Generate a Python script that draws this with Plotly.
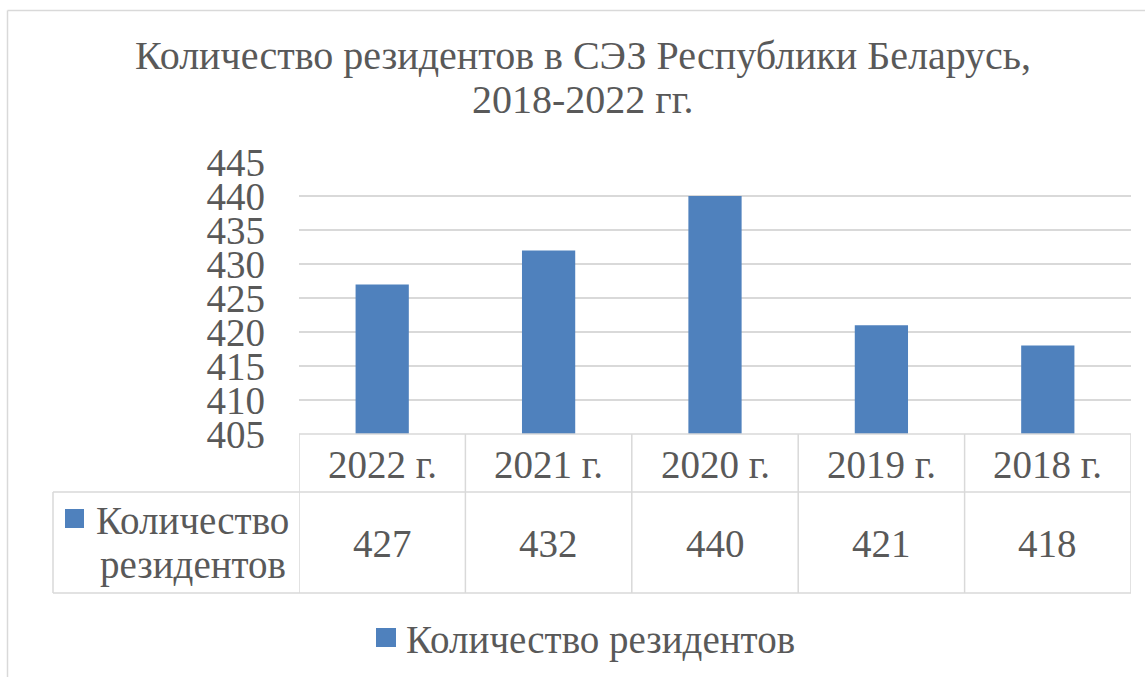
import plotly.graph_objects as go

# data
years = ['2022 г.', '2021 г.', '2020 г.', '2019 г.', '2018 г.']
residents = [427, 432, 440, 421, 418]
series_name = 'Количество резидентов'
title_lines = ['Количество резидентов в СЭЗ Республики Беларусь,', '2018-2022 гг.']

W, H = 1145, 677
PL, PT, PW, PH = 299, 162, 832, 272  # plot area in px

bar_col = '#4F81BD'
txt_col = '#595959'
line_col = '#D9D9D9'
font_fam = 'Liberation Serif'
fs = 39


def px(x):  # pixel -> paper x
    return (x - PL) / PW


def py(y):  # pixel -> paper y
    return (PT + PH - y) / PH


fig = go.Figure()
fig.add_trace(go.Bar(x=years, y=residents, name=series_name,
                     marker=dict(color=bar_col, line=dict(width=0)),
                     width=0.32, showlegend=False))

shapes = []
annots = []

# outer chart border (only top/left visible)
shapes.append(dict(type='line', xref='paper', yref='paper', x0=px(7.5), x1=px(7.5),
                   y0=py(10.5), y1=py(720), line=dict(color=line_col, width=1.5)))
shapes.append(dict(type='line', xref='paper', yref='paper', x0=px(7.5), x1=px(1180),
                   y0=py(10.5), y1=py(10.5), line=dict(color=line_col, width=1.5)))

# data table grid
for i in range(len(years) + 1):
    shapes.append(dict(type='line', xref='x', yref='paper', x0=i - 0.5, x1=i - 0.5,
                       y0=0, y1=py(593), line=dict(color=line_col, width=1.5)))
shapes.append(dict(type='line', xref='paper', yref='paper', x0=0, x1=1, y0=0, y1=0,
                   line=dict(color=line_col, width=1.5)))
for yy in (492, 593):
    shapes.append(dict(type='line', xref='paper', yref='paper', x0=px(53), x1=1,
                       y0=py(yy), y1=py(yy), line=dict(color=line_col, width=1.5)))
shapes.append(dict(type='line', xref='paper', yref='paper', x0=px(53), x1=px(53),
                   y0=py(492), y1=py(593), line=dict(color=line_col, width=1.5)))

# legend key in the table
shapes.append(dict(type='rect', xref='paper', yref='paper', x0=px(65), x1=px(84),
                   y0=py(528), y1=py(509), fillcolor=bar_col, line=dict(width=0)))
# bottom legend key
shapes.append(dict(type='rect', xref='paper', yref='paper', x0=px(376), x1=px(396),
                   y0=py(647), y1=py(628), fillcolor=bar_col, line=dict(width=0)))

font = dict(family=font_fam, size=fs, color=txt_col)
tfont = dict(family=font_fam, size=40, color=txt_col)

for yr, v in zip(years, residents):
    annots.append(dict(x=yr, xref='x', y=py(464), yref='paper', text=yr, showarrow=False,
                       font=font, xanchor='center', yanchor='middle'))
    annots.append(dict(x=yr, xref='x', y=py(543), yref='paper', text=str(v), showarrow=False,
                       font=font, xanchor='center', yanchor='middle'))

name_parts = series_name.split(' ')
annots.append(dict(x=px(192), xref='paper', y=py(520), yref='paper', text=name_parts[0],
                   showarrow=False, font=font, xanchor='center', yanchor='middle'))
annots.append(dict(x=px(193), xref='paper', y=py(565), yref='paper', text=name_parts[1],
                   showarrow=False, font=font, xanchor='center', yanchor='middle'))

# bottom legend text
annots.append(dict(x=px(404), xref='paper', y=py(640), yref='paper', text=series_name,
                   showarrow=False, font=font, xanchor='left', yanchor='middle'))

# title
annots.append(dict(x=px(583), xref='paper', y=py(55), yref='paper', text=title_lines[0],
                   showarrow=False, font=tfont, xanchor='center', yanchor='middle'))
annots.append(dict(x=px(583), xref='paper', y=py(100), yref='paper', text=title_lines[1],
                   showarrow=False, font=tfont, xanchor='center', yanchor='middle'))

fig.update_layout(
    width=W, height=H,
    margin=dict(l=PL, r=W - PL - PW, t=PT, b=H - PT - PH),
    paper_bgcolor='white', plot_bgcolor='white',
    shapes=shapes, annotations=annots,
    showlegend=False,
    xaxis=dict(range=[-0.5, 4.5], showticklabels=False, showgrid=False, zeroline=False,
               showline=False, ticks=''),
    yaxis=dict(range=[405, 445], dtick=5, tick0=405, showgrid=True, gridcolor=line_col,
               gridwidth=1.5, zeroline=False, showline=False, ticks='',
               tickfont=font, ticklabelstandoff=33),
)

# page has a default 8px body margin, drop it
fig.write_html("out.html", config={'displayModeBar': False},
               post_script="document.body.style.margin='0';")
